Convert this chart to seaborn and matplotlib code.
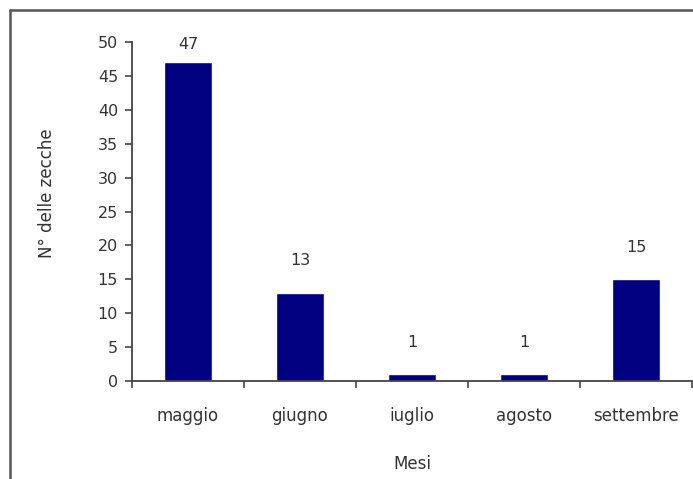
import matplotlib
matplotlib.use("Agg")
import matplotlib.pyplot as plt
from matplotlib.lines import Line2D
import seaborn as sns
import pandas as pd

mesi = ["maggio", "giugno", "iuglio", "agosto", "settembre"]
zecche = [47, 13, 1, 1, 15]
y_ticks = [0, 5, 10, 15, 20, 25, 30, 35, 40, 45, 50]

sns.set_theme(style="white")
plt.rcParams["font.family"] = ["DejaVu Sans"]

W, H = 693, 479
fig = plt.figure(figsize=(W / 100, H / 100), dpi=100)
fig.patch.set_facecolor("white")

# axes placed in pixel terms of the canvas
x0, x1, y_top, y_bot = 132, 692, 42, 381
ax = fig.add_axes([x0 / W, 1 - y_bot / H, (x1 - x0) / W, (y_bot - y_top) / H])

df = pd.DataFrame({"Mesi": mesi, "N": zecche})
sns.barplot(data=df, x="Mesi", y="N", color="#000080", width=0.42,
            saturation=1, ax=ax)

text_col = "#333333"
axis_col = "#444444"

ax.set_ylim(0, 50)
ax.set_xlim(-0.5, len(mesi) - 0.5)
ax.set_yticks(y_ticks)
ax.set_yticklabels([str(t) for t in y_ticks], fontsize=11.5, color=text_col)
ax.tick_params(axis="y", direction="out", length=5, width=1.2,
               color=axis_col, pad=5, left=True)

# category boundaries carry the tick marks, labels sit at the centres
bounds = [i - 0.5 for i in range(len(mesi) + 1)]
ax.set_xticks(bounds)
ax.set_xticklabels([""] * len(bounds))
ax.tick_params(axis="x", which="major", direction="out", length=5, width=1.2,
               color=axis_col, bottom=True)
ax.set_xticks(range(len(mesi)), minor=True)
ax.set_xticklabels(mesi, minor=True, fontsize=12, color=text_col)
ax.tick_params(axis="x", which="minor", length=0, pad=19)

for side in ["top", "right"]:
    ax.spines[side].set_visible(False)
for side in ["left", "bottom"]:
    ax.spines[side].set_color(axis_col)
    ax.spines[side].set_linewidth(1.3)

ax.set_xlabel("Mesi", fontsize=12, color=text_col, labelpad=21)
ax.set_ylabel("N° delle zecche", fontsize=12, color=text_col)
ax.yaxis.set_label_coords(-0.135, 0.555)

# value labels above each bar
for i, v in enumerate(zecche):
    ax.text(i, min(v + 4.7, 49.7), str(v), ha="center", va="center",
            fontsize=11.5, color=text_col, clip_on=False)

# outer frame of the chart area
frame_col = "#555555"
fig.add_artist(Line2D([10 / W, 10 / W], [0, 1 - 10 / H], color=frame_col,
                      lw=1.8, transform=fig.transFigure))
fig.add_artist(Line2D([10 / W, 1], [1 - 10 / H, 1 - 10 / H], color=frame_col,
                      lw=1.8, transform=fig.transFigure))

fig.savefig("out.png", dpi=100)
